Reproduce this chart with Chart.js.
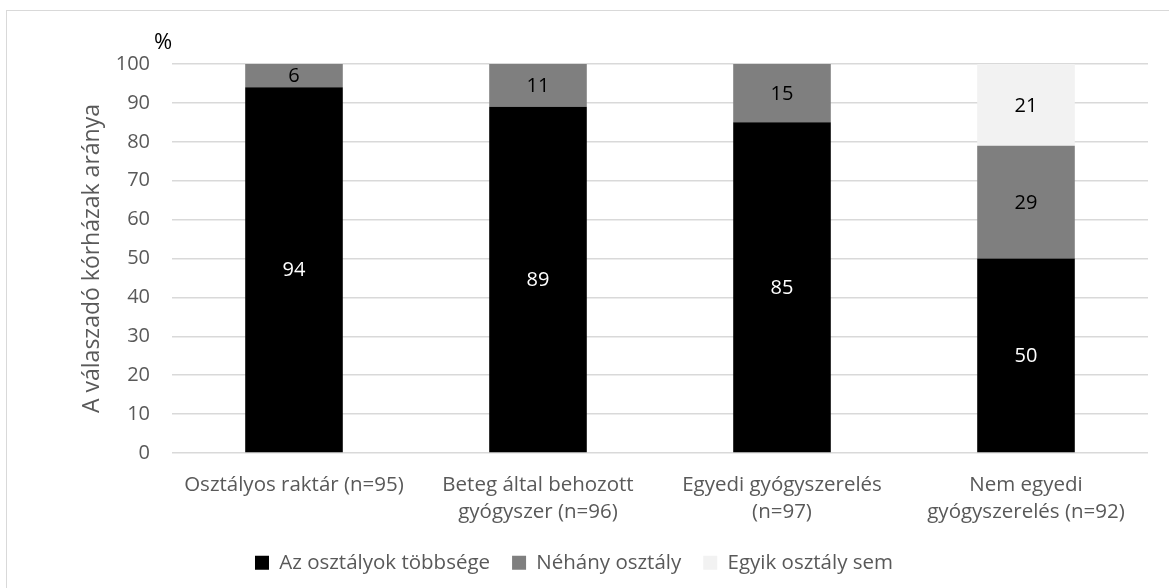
<!DOCTYPE html>
<html lang="hu">
<head>
<meta charset="utf-8">
<title>Kórházak aránya</title>
<script src="https://cdn.jsdelivr.net/npm/chart.js@4.4.1/dist/chart.umd.min.js"></script>
<style>
  html, body { margin: 0; padding: 0; background: #ffffff; overflow: hidden; }
  #wrap { position: relative; width: 1169px; height: 588px; overflow: hidden; }
  #frame { position: absolute; left: 6px; top: 10px; width: 1300px; height: 700px;
           border-left: 1px solid #d9d9d9; border-top: 1px solid #d9d9d9; box-sizing: border-box; }
  #chart { position: absolute; left: 0; top: 0; }
</style>
</head>
<body>
<div id="wrap">
  <div id="frame"></div>
  <canvas id="chart" width="1169" height="588"></canvas>
</div>
<script>
// Categories (x axis) – multi-line labels
const categories = [
  ["Osztályos raktár (n=95)"],
  ["Beteg által behozott", "gyógyszer (n=96)"],
  ["Egyedi gyógyszerelés", "(n=97)"],
  ["Nem egyedi", "gyógyszerelés (n=92)"]
];

// Series values (%)
const seriesNames = ["Az osztályok többsége", "Néhány osztály", "Egyik osztály sem"];
const mostWards = [94, 89, 85, 50];
const someWards = [6, 11, 15, 29];
const noWards   = [null, null, null, 21];

// Y axis ticks
const yMin = 0;
const yMax = 100;
const yStep = 10;

const FONT = "'Open Sans', 'Noto Sans', sans-serif";
const TEXT_GREY = "#595959";

// Writes each segment's value in the middle of its bar
const segmentLabels = {
  id: "segmentLabels",
  afterDatasetsDraw(chart) {
    const ctx = chart.ctx;
    ctx.save();
    ctx.font = "20px " + FONT;
    ctx.textAlign = "center";
    ctx.textBaseline = "middle";
    chart.data.datasets.forEach((ds, di) => {
      const meta = chart.getDatasetMeta(di);
      meta.data.forEach((bar, i) => {
        const v = ds.data[i];
        if (v === null || v === undefined) return;
        const p = bar.getProps(["x", "y", "base"], true);
        ctx.fillStyle = ds.labelColor;
        ctx.fillText(String(v), p.x, (p.y + p.base) / 2 + 1);
      });
    });
    // unit marker above the value axis
    const area = chart.chartArea;
    ctx.fillStyle = "#000000";
    ctx.font = "22px " + FONT;
    ctx.fillText("%", area.left - 9, area.top - 21);
    ctx.restore();
  }
};

new Chart(document.getElementById("chart"), {
  type: "bar",
  data: {
    labels: categories,
    datasets: [
      { label: seriesNames[0], data: mostWards, backgroundColor: "#000000", labelColor: "#ffffff" },
      { label: seriesNames[1], data: someWards, backgroundColor: "#7f7f7f", labelColor: "#000000" },
      { label: seriesNames[2], data: noWards,   backgroundColor: "#f2f2f2", labelColor: "#000000" }
    ]
  },
  options: {
    responsive: false,
    animation: false,
    devicePixelRatio: 1,
    layout: { padding: { left: 0, right: 21, top: 64, bottom: 5 } },
    datasets: { bar: { categoryPercentage: 1.0, barPercentage: 0.4, borderWidth: 0 } },
    plugins: {
      legend: {
        position: "bottom",
        labels: {
          color: TEXT_GREY,
          font: { family: FONT, size: 20.5 },
          boxWidth: 14,
          boxHeight: 14,
          padding: 22
        }
      },
      tooltip: { enabled: false }
    },
    scales: {
      x: {
        stacked: true,
        grid: { display: false, drawTicks: false },
        border: { display: false },
        ticks: {
          color: TEXT_GREY,
          font: { family: FONT, size: 20.5, lineHeight: 1.32 },
          padding: 19,
          maxRotation: 0,
          autoSkip: false
        },
        afterFit(scale) { scale.height = 77.5; }
      },
      y: {
        stacked: true,
        min: yMin,
        max: yMax,
        grid: { color: "#d9d9d9", lineWidth: 1.5, drawTicks: false },
        border: { display: false },
        ticks: {
          stepSize: yStep,
          color: TEXT_GREY,
          font: { family: FONT, size: 20 },
          padding: 22
        },
        title: {
          display: true,
          text: "A válaszadó kórházak aránya",
          color: TEXT_GREY,
          font: { family: FONT, size: 23 },
          padding: { top: 79, bottom: 0 }
        },
        afterFit(scale) { scale.width = 172; }
      }
    }
  },
  plugins: [segmentLabels]
});
</script>
</body>
</html>
